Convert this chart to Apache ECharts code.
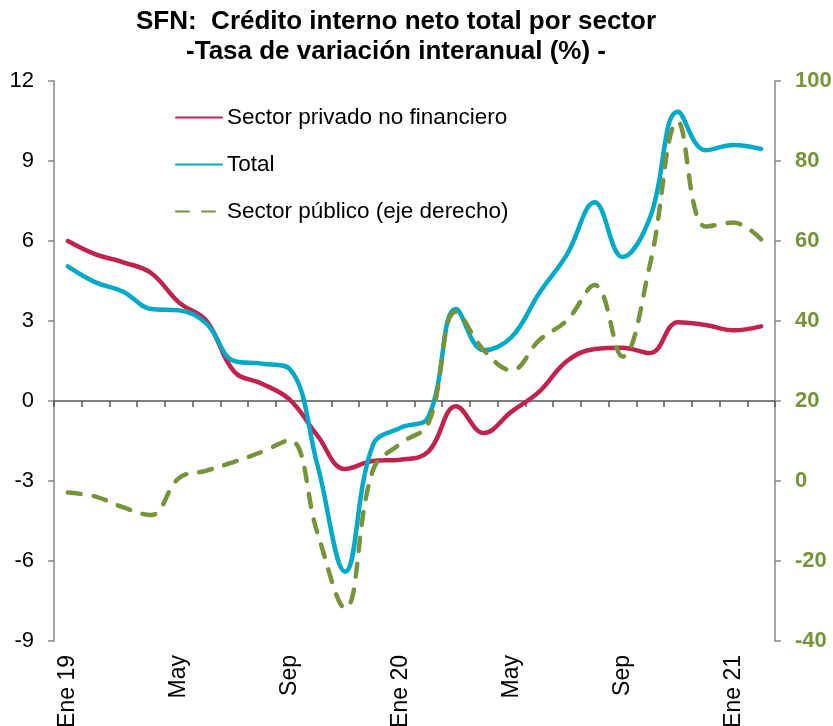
<!DOCTYPE html>
<html>
<head>
<meta charset="utf-8">
<script src="https://cdn.jsdelivr.net/npm/echarts@6/dist/echarts.min.js"></script>
<style>
html,body{margin:0;padding:0;background:#fff;overflow:hidden;}
#chart{width:833px;height:726px;}
</style>
</head>
<body>
<div id="chart"></div>
<script>
const months = ["Ene 19","Feb","Mar","Abr","May","Jun","Jul","Ago","Sep","Oct","Nov","Dic",
                "Ene 20","Feb","Mar","Abr","May","Jun","Jul","Ago","Sep","Oct","Nov","Dic",
                "Ene 21","Feb"];
const privado = [6.0, 5.5, 5.2, 4.8, 3.7, 3.0, 1.1, 0.65, 0.05, -1.3, -2.55, -2.25,
                 -2.2, -1.9, -0.2, -1.2, -0.4, 0.35, 1.5, 1.95, 2.0, 1.8, 2.95, 2.85,
                 2.65, 2.8];
const total = [5.05, 4.45, 4.1, 3.45, 3.4, 2.9, 1.5, 1.4, 1.2, -2.4, -6.4, -1.65,
               -1.0, -0.6, 3.45, 1.9, 2.4, 4.05, 5.5, 7.45, 5.4, 6.9, 10.85, 9.4,
               9.6, 9.45];
const publico = [-2.9, -3.9, -6.6, -8.5, 0.7, 2.6, 4.8, 7.3, 10.2, -13, -31.8, 2.7,
                 9.4, 14.4, 42.3, 32.7, 27.7, 35.2, 40.2, 49.0, 31.1, 54.4, 89.8, 63.6,
                 64.6, 60.4];
const leftTicks = {min: -9, max: 12, interval: 3};
const rightTicks = {min: -40, max: 100, interval: 20};

const chart = echarts.init(document.getElementById('chart'), null, {renderer: 'canvas'});
const FONT = 'Liberation Sans, Arial, sans-serif';
chart.setOption({
  animation: false,
  backgroundColor: '#fff',
  title: {
    text: 'SFN:  Crédito interno neto total por sector\n-Tasa de variación interanual (%) -',
    left: 396, top: 7, textAlign: 'center', padding: 0,
    textStyle: {fontFamily: FONT, fontSize: 26, fontWeight: 'bold', color: '#000', lineHeight: 30}
  },
  legend: {
    orient: 'vertical', left: 175, top: 106, padding: 0,
    itemWidth: 46, itemHeight: 14, itemGap: 24,
    itemStyle: {opacity: 0},
    textStyle: {fontFamily: FONT, fontSize: 22.5, color: '#000'},
    data: ['Sector privado no financiero', 'Total', 'Sector público (eje derecho)']
  },
  grid: {left: 54, right: 58, top: 81, bottom: 85, containLabel: false, outerBoundsMode: 'none'},
  xAxis: [
    {
      type: 'category', data: months, position: 'bottom', boundaryGap: true,
      axisLine: {show: false, onZero: false},
      axisTick: {show: false},
      axisLabel: {interval: 3, rotate: 90, margin: 14, fontFamily: FONT, fontSize: 23, color: '#000'},
      splitLine: {show: false}
    },
    {
      type: 'category', data: months, position: 'top', boundaryGap: true,
      axisLine: {show: true, onZero: true, lineStyle: {color: '#555', width: 1.5}},
      axisTick: {show: true, inside: true, interval: 0, length: 6, lineStyle: {color: '#555', width: 1.5}},
      axisLabel: {show: false},
      splitLine: {show: false}
    }
  ],
  yAxis: [
    {
      type: 'value', position: 'left', min: leftTicks.min, max: leftTicks.max, interval: leftTicks.interval,
      axisLine: {show: true, lineStyle: {color: '#888', width: 1.5}},
      axisTick: {show: true, length: 6, lineStyle: {color: '#888', width: 1.5}},
      axisLabel: {margin: 20, fontFamily: FONT, fontSize: 22, color: '#000'},
      splitLine: {show: false}
    },
    {
      type: 'value', position: 'right', min: rightTicks.min, max: rightTicks.max, interval: rightTicks.interval,
      axisLine: {show: true, lineStyle: {color: '#888', width: 1.5}},
      axisTick: {show: true, length: 6, lineStyle: {color: '#888', width: 1.5}},
      axisLabel: {margin: 20, fontFamily: FONT, fontSize: 22, fontWeight: 'bold', color: '#77933C'},
      splitLine: {show: false}
    }
  ],
  series: [
    {
      name: 'Sector privado no financiero', type: 'line', data: privado,
      xAxisIndex: 0, yAxisIndex: 0, smooth: 0.4, symbol: 'none',
      lineStyle: {color: '#C0244E', width: 4.5, cap: 'round'},
      itemStyle: {color: '#C0244E'}
    },
    {
      name: 'Total', type: 'line', data: total,
      xAxisIndex: 0, yAxisIndex: 0, smooth: 0.4, symbol: 'none',
      lineStyle: {color: '#00A9C6', width: 4.5, cap: 'round'},
      itemStyle: {color: '#00A9C6'}
    },
    {
      name: 'Sector público (eje derecho)', type: 'line', data: publico,
      xAxisIndex: 0, yAxisIndex: 1, smooth: 0.4, symbol: 'none',
      lineStyle: {color: '#77933C', width: 4.5, type: [13, 13], cap: 'round'},
      itemStyle: {color: '#77933C'}
    }
  ]
});
</script>
</body>
</html>
